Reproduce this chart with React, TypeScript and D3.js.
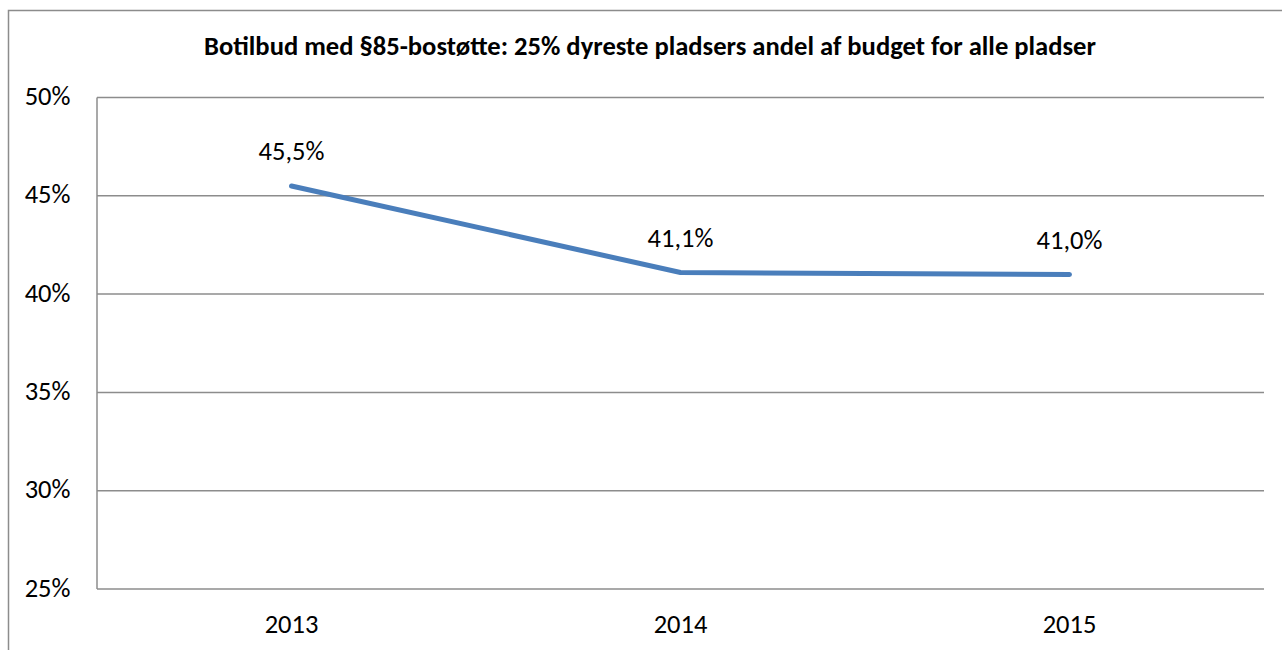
import React from "react";
import * as d3 from "d3";

const years = ["2013", "2014", "2015"];
const values = [45.5, 41.1, 41.0];
const labels = ["45,5%", "41,1%", "41,0%"];
const yTicks = [25, 30, 35, 40, 45, 50];
const title = "Botilbud med §85-bostøtte: 25% dyreste pladsers andel af budget for alle pladser";

export default function App() {
  const W = 1282, H = 650;
  const left = 97, right = 1264, top = 97.5, bottom = 589;
  const x = d3.scaleBand().domain(years).range([left, right]);
  const y = d3.scaleLinear().domain([25, 50]).range([bottom, top]);
  const cx = (i: number) => (x(years[i]) as number) + x.bandwidth() / 2;
  const line = d3
    .line<number>()
    .x((_, i) => cx(i))
    .y((d) => y(d));
  const font = "Carlito, Calibri, 'Open Sans', 'Liberation Sans', sans-serif";
  return (
    <div style={{ position: "absolute", left: 0, top: 0 }}>
      <svg width={W} height={H} style={{ display: "block" }}>
        <rect x={0} y={0} width={W} height={H} fill="#fff" />
        <rect x={8.5} y={10.5} width={W + 10} height={H + 10} fill="none" stroke="#8c8c8c" strokeWidth={1.5} />
        <text x={650} y={55} textAnchor="middle" fontFamily={font} fontWeight="bold" fontSize={26.6} fill="#000">
          {title}
        </text>
        {yTicks.map((t) => (
          <g key={t}>
            <line x1={left} x2={right} y1={y(t)} y2={y(t)} stroke="#8c8c8c" strokeWidth={1.5} />
            <text x={70.5} y={y(t) + 7.5} textAnchor="end" fontFamily={font} fontSize={26.5} fill="#000">
              {t}%
            </text>
          </g>
        ))}
        <line x1={left} x2={left} y1={top} y2={bottom} stroke="#8c8c8c" strokeWidth={1.5} />
        {years.map((yr, i) => (
          <text key={yr} x={cx(i)} y={633} textAnchor="middle" fontFamily={font} fontSize={26.5} fill="#000">
            {yr}
          </text>
        ))}
        <path d={line(values) || ""} fill="none" stroke="#4a7ebb" strokeWidth={5} strokeLinecap="round" strokeLinejoin="round" />
        {values.map((v, i) => (
          <text key={i} x={cx(i)} y={y(v) - 25.5} textAnchor="middle" fontFamily={font} fontSize={26.5} fill="#000">
            {labels[i]}
          </text>
        ))}
      </svg>
    </div>
  );
}
